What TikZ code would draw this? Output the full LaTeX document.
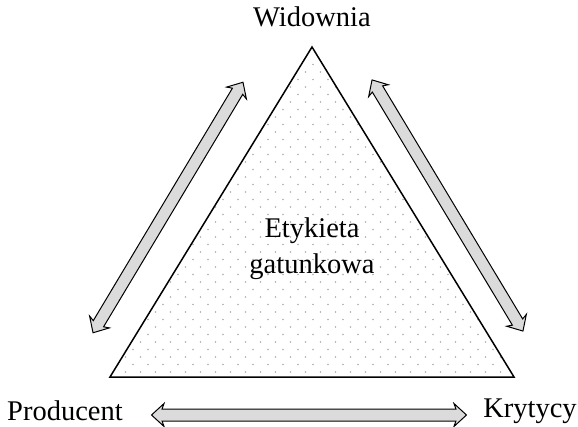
\documentclass[tikz,border=0pt]{standalone}
\usepackage{fontspec}
\setmainfont{Liberation Serif}
\usetikzlibrary{shapes.arrows}
\tikzset{
  lbl/.style={font=\fontsize{28.5}{34}\selectfont, inner sep=0pt},
  dblarrow/.style={double arrow, draw=black, line width=1pt, fill=black!14,
    inner xsep=0pt, inner ysep=5.5pt, double arrow head extend=5.5pt,
    double arrow tip angle=85, double arrow head indent=2pt, anchor=center},
  dotc/.style={fill=black!32}
}
\begin{document}
\begin{tikzpicture}[x=1pt,y=-1pt]
\useasboundingbox (0,0) rectangle (578,427);
% triangle
\coordinate (A) at (312,47);
\coordinate (B) at (110,377);
\coordinate (C) at (514,377);
\fill[white] (A) -- (B) -- (C) -- cycle;
\begin{scope}
\clip (A) -- (B) -- (C) -- cycle;
\foreach \j in {0,...,43}{
  \pgfmathsetmacro{\yy}{57+7.5*\j}
  \pgfmathsetmacro{\off}{mod(\j,2)*7.5}
  \foreach \i in {0,...,28}{
    \fill[dotc] ({95.5+\off+15*\i},\yy) circle (0.8);
  }
}
\end{scope}
\draw[line width=1.5pt, line join=miter] (A) -- (B) -- (C) -- cycle;
% labels
\node[lbl] (wid) at (312,17) {Widownia};
\node[lbl] (prod) at (65,411) {Producent};
\node[lbl] (kryt) at (530,411) {Krytycy};
\node[lbl, align=center, font=\fontsize{28.5}{36}\selectfont] (ety) at (312,249) {Etykieta\\gatunkowa};
% arrows
\node[dblarrow, minimum height=292pt, rotate=59.1] (arrL) at (168,207.5) {};
\node[dblarrow, minimum height=293pt, rotate=-59] (arrR) at (447.5,205.5) {};
\node[dblarrow, minimum height=315pt] (arrB) at (309,415) {};
\end{tikzpicture}
\end{document}
